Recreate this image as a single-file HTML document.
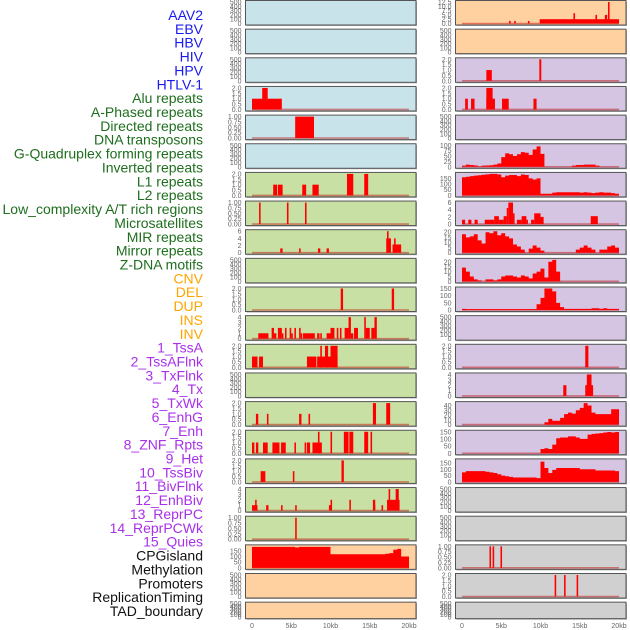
<!DOCTYPE html>
<html><head><meta charset="utf-8">
<style>
html,body{margin:0;padding:0;background:#fff;width:630px;height:630px;overflow:hidden}
svg{display:block}
text{font-family:"Liberation Sans",sans-serif}
</style></head>
<body>
<svg id="chart" width="630" height="630"></svg>
<script>
// ---- data ----
const trackLabels=["AAV2","EBV","HBV","HIV","HPV","HTLV-1","Alu repeats","A-Phased repeats","Directed repeats","DNA transposons","G-Quadruplex forming repeats","Inverted repeats","L1 repeats","L2 repeats","Low_complexity A/T rich regions","Microsatellites","MIR repeats","Mirror repeats","Z-DNA motifs","CNV","DEL","DUP","INS","INV","1_TssA","2_TssAFlnk","3_TxFlnk","4_Tx","5_TxWk","6_EnhG","7_Enh","8_ZNF_Rpts","9_Het","10_TssBiv","11_BivFlnk","12_EnhBiv","13_ReprPC","14_ReprPCWk","15_Quies","CPGisland","Methylation","Promoters","ReplicationTiming","TAD_boundary"];
const labelGroups=["v","v","v","v","v","v","r","r","r","r","r","r","r","r","r","r","r","r","r","s","s","s","s","s","c","c","c","c","c","c","c","c","c","c","c","c","c","c","c","o","o","o","o","o"];
const panelBg=["b","b","b","b","b","b","g","g","g","g","g","g","g","g","g","g","g","g","g","o","o","o",
 "o","o","p","p","p","p","p","p","p","p","p","p","p","p","p","p","p","k","k","k","k","k"];
const E=["0","100","200","300","400","500"];
const T2=["0.0","0.5","1.0","1.5","2.0"], T1=["0.00","0.25","0.50","0.75","1.00"];
const panelTicks=[E,E,E,T2,T1,E,T2,T1,["0","2","4","6"],E,T2,["0","1","2","3","4"],T2,E,T2,T2,T2,["0","1","2","3","4"],T1,["0","50","100","150"],E,E,
 ["0.0","2.5","5.0","7.5","10.0","12.5"],E,T2,T2,E,["0","25","50","75","100"],["0","50","100","150"],["0","2","4","6"],["0","5","10","15","20"],["0","5","10","15","20"],["0","50","100","150"],E,T2,["0","1","2","3","4"],["0","10","20","30","40"],["0","50","100","150"],["0","50","100","150"],E,E,T1,T2,E];
const panelMax=[500,500,500,2,1,500,2,1,6,500,2,4,2,500,2,2,2,4,1,190,500,500,
 12.5,500,2,2,500,100,190,6,21,22,150,500,2,4,45,150,170,500,500,1,2,500];
// bars: [startKb,endKb,value]
const panelBars={
 3:[[0,3.8,1],[1.3,2.0,2]],
 4:[[5.5,7.9,1]],
 6:[[2.7,3.2,1],[3.3,3.9,1],[6.4,6.9,1],[7.7,8.5,1],[12.1,12.9,2],[14.3,14.8,2]],
 7:[[0.9,1.1,1],[4.45,4.65,1],[6.75,6.95,1]],
 8:[[3.6,3.9,1.2],[6.0,6.2,1.2],[8.4,8.7,1.2],[9.5,9.8,1.2],[17.1,17.7,4],[17.2,17.4,6],[17.9,19.0,2.3],[18.1,18.3,4]],
 10:[[11.3,11.6,2],[17.8,18.1,2]],
 11:[[0.8,2.1,1],[2.5,2.8,2],[2.8,3.1,1],[3.3,3.5,2],[3.5,3.8,2],[3.8,4.0,1],[4.2,4.4,2],[4.8,5.0,2],[5.0,5.2,1],[5.4,5.6,2],[6.0,6.2,2],[6.2,6.4,1],[6.5,8.0,1],[8.3,8.6,1],[8.7,8.9,1],[9.5,10.0,1],[10.0,10.5,2],[10.8,11.0,2],[11.2,11.4,2],[11.8,12.3,2],[12.3,12.6,4],[12.6,12.9,1],[13.0,13.5,2],[14.3,14.5,4],[14.5,15.0,2],[15.2,15.6,2],[15.6,15.9,4]],
 12:[[0,0.7,1],[0.9,1.4,1],[7.0,8.2,1],[8.3,10.9,1],[8.7,8.9,2],[9.3,9.7,2],[10.0,10.9,2]],
 14:[[0.5,0.8,1],[1.9,2.1,1],[6.0,6.3,1],[7.2,7.4,1],[15.4,15.8,2],[17.1,17.6,2]],
 15:[[0,0.3,1],[0.5,0.8,1],[1.4,2.0,1],[2.6,3.5,1],[3.7,4.3,1],[5.4,5.6,1],[6.7,6.9,1],[7.0,7.4,1],[7.7,8.9,1],[8.4,8.6,2],[10.0,10.2,2],[11.7,12.3,2],[12.4,12.9,2],[14.3,14.8,2],[15.1,15.3,2]],
 16:[[1.1,1.7,1],[5.2,5.4,1],[11.4,11.7,2]],
 17:[[0,0.7,1],[1.8,2.1,1],[3.7,3.9,1],[5.5,5.7,1],[9.8,10.0,1],[15.5,15.7,1],[16.5,16.7,1],[0.4,0.55,2],[10.0,10.2,2],[12.4,12.6,2],[15.4,15.7,2],[17.2,18.8,2],[17.4,17.6,4],[18.3,18.7,4]],
 18:[[5.5,5.7,1]],
 22:[[6.0,6.2,1.5],[6.65,6.85,1.5],[8.4,8.6,1.5],[9.9,20.0,2.5],[14.2,14.4,6],[17.0,17.2,5],[18.2,18.5,5],[18.6,18.8,12.5]],
 24:[[3.1,3.8,1],[9.85,10.1,2]],
 25:[[0.4,0.75,1],[1.15,1.6,1],[3.1,4.2,1],[5.1,5.95,1],[9.1,9.5,1],[3.1,3.9,2]],
 29:[[0,0.4,1.2],[0.8,1.2,1.2],[1.6,2.0,1.2],[2.9,4.1,1.2],[4.1,4.7,2.2],[4.7,5.3,1.2],[5.3,5.7,2.2],[5.7,5.9,4.5],[5.9,6.5,6],[6.5,6.7,3],[7.0,7.6,1.2],[7.6,8.2,2.2],[8.2,8.4,1.2],[8.8,9.2,1.2],[9.2,10.0,3],[10.0,10.4,2],[16.4,17.3,2.2]],
 34:[[15.7,16.1,2]],
 35:[[12.9,13.3,2],[15.7,16.7,2],[15.9,16.5,4]],
 41:[[3.5,3.7,1],[3.9,4.1,1],[4.9,5.1,1]],
 42:[[11.8,12.0,2],[13.0,13.2,2],[14.6,14.8,2]]
};
// bins: 40 values, 0.5kb each
const panelBins={
 19:[185,185,185,185,185,185,185,185,185,185,185,180,185,185,185,185,185,185,185,185,120,120,120,120,120,120,120,120,120,120,120,120,120,120,125,130,160,168,100,100],
 27:[5,10,8,6,2,5,6,7,10,15,45,62,58,50,58,68,65,55,80,95,60,0,0,0,0,0,0,0,5,8,8,10,10,10,5,0,0,0,0,0],
 28:[160,165,170,175,178,182,186,190,190,185,160,175,180,180,170,185,180,150,140,150,15,15,15,25,28,28,28,28,28,28,25,28,25,20,25,28,25,25,20,15],
 30:[18,15,16,18,12,9,20,19,21,17,19,16,14,8,6,3,0,4,7,5,2,0,0,0,0,0,0,0,0,3,5,7,5,3,0,3,3,6,7,5],
 31:[14,10,5,2,1,0,2,2,1,2,5,6,6,5,4,6,5,3,8,10,13,4,20,22,10,0,0,0,0,0,0,0,0,0,0,0,0,0,0,0],
 32:[8,6,6,6,6,6,6,6,6,6,6,6,6,6,6,6,6,6,6,40,85,150,150,130,50,20,8,8,8,8,8,8,8,12,12,8,12,8,8,8],
 36:[0,0,0,0,0,0,0,0,0,0,0,0,0,0,0,0,0,0,0,0,0,5,12,8,8,14,22,25,23,30,35,45,40,25,22,22,22,22,32,32],
 37:[0,0,0,0,0,0,0,0,0,0,0,0,0,0,0,0,0,0,0,0,30,35,30,60,105,110,110,118,118,110,100,100,130,135,138,140,145,148,145,148],
 38:[75,85,85,85,85,85,80,75,70,60,50,45,40,35,35,35,35,35,35,30,160,110,70,95,110,110,110,110,110,110,100,100,100,100,90,90,90,90,90,85]
};
const xTickLabels=["0","5kb","10kb","15kb","20kb"];
const xTickValues=[0,5,10,15,20];

// ---- drawing ----
const NS="http://www.w3.org/2000/svg";
const svg=document.getElementById('chart');
function mk(tag,attrs,parent){const e=document.createElementNS(NS,tag);for(const k in attrs)e.setAttribute(k,attrs[k]);(parent||svg).appendChild(e);return e;}
const bgColor={b:"#c8e4ea",g:"#c8e0a4",o:"#ffd0a0",p:"#d6c5e2",k:"#d0d0d0"};
const labelColor={v:"#1a1aee",r:"#1e6e1e",s:"#ffa500",c:"#a830e8",o:"#111111"};
const kbPx=7.85;
function colOf(i){return i<22?0:1;}
function panelBox(i){const r=i%22;const top=r*28.65+0.5;const h=(r===21)?16.5:24.5;const x=colOf(i)?455.5:245.5;return {x:x,w:170.5,top:top,h:h};}
function xScale(i,kb){return (colOf(i)?462:252)+kb*kbPx;}
function yScale(i,v){const b=panelBox(i);return b.top+b.h-1.5-(v/panelMax[i])*(b.h-3);}

trackLabels.forEach((t,k)=>{
  const el=mk('text',{x:203,y:15+k*13.86+5,'text-anchor':'end','font-size':'14',fill:labelColor[labelGroups[k]]});
  el.textContent=t;
  
  
});

for(let i=0;i<44;i++){
  const b=panelBox(i);
  const g=mk('g',{});
  
  
  mk('rect',{x:b.x+1,y:b.top+1,width:b.w,height:b.h,fill:'#aaa'},g);
  mk('rect',{x:b.x,y:b.top,width:b.w,height:b.h,fill:bgColor[panelBg[i]],stroke:'#555','stroke-width':1},g);
  panelTicks[i].forEach(t=>{
    const v=parseFloat(t);
    const tx=mk('text',{x:b.x-4,y:yScale(i,v)+2.5,'text-anchor':'end','font-size':'7',fill:'#666'},g);
    tx.textContent=t;
    
    
  });
  const bars=panelBars[i], bins=panelBins[i];
  if(bars||bins){
    const bl=mk('line',{x1:xScale(i,0),x2:xScale(i,20),y1:yScale(i,0),y2:yScale(i,0),stroke:'rgba(190,0,0,0.45)','stroke-width':1.6},g);
    
    
  }
  if(bins){
    let d='M'+xScale(i,0)+','+yScale(i,0);
    bins.forEach((v,k)=>{d+=' L'+xScale(i,k*0.5)+','+yScale(i,v)+' L'+xScale(i,k*0.5+0.5)+','+yScale(i,v);});
    d+=' L'+xScale(i,20)+','+yScale(i,0)+'Z';
    const p=mk('path',{d:d,fill:'#ff0000'},g);
    
    
  }
  if(bars){
    bars.forEach(bb=>{
      const x0=xScale(i,bb[0]),x1=xScale(i,bb[1]);
      const y0=yScale(i,bb[2]),y1=yScale(i,0);
      const r=mk('rect',{x:x0,y:y0,width:Math.max(1.5,x1-x0),height:y1-y0,fill:'#ff0000'},g);
      
      
    });
  }
}
[0,1].forEach(c=>{
  xTickValues.forEach((v,k)=>{
    const t=mk('text',{x:xScale(c?22:0,v),y:628,'text-anchor':'middle','font-size':'7',fill:'#666'});
    t.textContent=xTickLabels[k];
    
    
  });
});
</script>
</body></html>
